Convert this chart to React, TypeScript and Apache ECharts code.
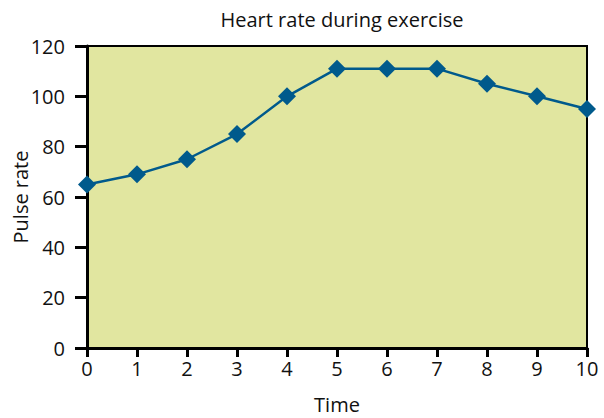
import React, { useEffect, useRef } from "react";
import * as echarts from "echarts";

const times = ["0", "1", "2", "3", "4", "5", "6", "7", "8", "9", "10"];
const pulse = [65, 69, 75, 85, 100, 111, 111, 111, 105, 100, 95];
const yTicks = { min: 0, max: 120, interval: 20 };
const yName = "Pulse rate";

export default function App() {
  const ref = useRef<HTMLDivElement>(null);
  useEffect(() => {
    if (!ref.current) return;
    const chart = echarts.init(ref.current, null, { renderer: "svg" });
    const font = "'Open Sans', 'Noto Sans', sans-serif";
    chart.setOption({
      animation: false,
      backgroundColor: "#ffffff",
      title: {
        text: "Heart rate during exercise",
        left: 337,
        top: 4,
        textAlign: "center",
        textStyle: { fontFamily: font, fontSize: 20, fontWeight: "normal", color: "#111" },
      },
      graphic: [
        {
          type: "text",
          x: 20,
          y: 197,
          rotation: Math.PI / 2,
          style: {
            text: yName,
            fontFamily: font,
            fontSize: 20,
            fill: "#111",
            textAlign: "center",
            textVerticalAlign: "middle",
          },
        },
      ],
      grid: {
        left: 87,
        right: 17,
        top: 46,
        bottom: 70,
        containLabel: false,
        outerBoundsMode: "none",
        show: true,
        backgroundColor: "#e1e6a0",
        borderColor: "#000",
        borderWidth: 2,
      },
      xAxis: {
        type: "category",
        data: times,
        boundaryGap: false,
        name: "Time",
        nameLocation: "middle",
        nameGap: 46,
        nameTextStyle: { fontFamily: font, fontSize: 20, color: "#111" },
        axisLine: { lineStyle: { color: "#000", width: 3 } },
        axisTick: { show: true, alignWithLabel: true, length: 9, lineStyle: { color: "#000", width: 3 } },
        axisLabel: { fontFamily: font, fontSize: 20, color: "#111", margin: 10 },
        splitLine: { show: false },
      },
      yAxis: {
        type: "value",
        min: yTicks.min,
        max: yTicks.max,
        interval: yTicks.interval,
        axisLine: { show: true, lineStyle: { color: "#000", width: 3 } },
        axisTick: { show: true, length: 12, lineStyle: { color: "#000", width: 3 } },
        axisLabel: { fontFamily: font, fontSize: 20, color: "#111", margin: 22 },
        splitLine: { show: false },
      },
      series: [
        {
          type: "line",
          data: pulse,
          symbol: "diamond",
          symbolSize: 18,
          showAllSymbol: true,
          lineStyle: { color: "#005a8c", width: 2.5 },
          itemStyle: { color: "#005a8c" },
        },
      ],
    });
    return () => chart.dispose();
  }, []);
  return <div ref={ref} style={{ width: 604, height: 418, position: "absolute", left: 0, top: 0 }} />;
}
